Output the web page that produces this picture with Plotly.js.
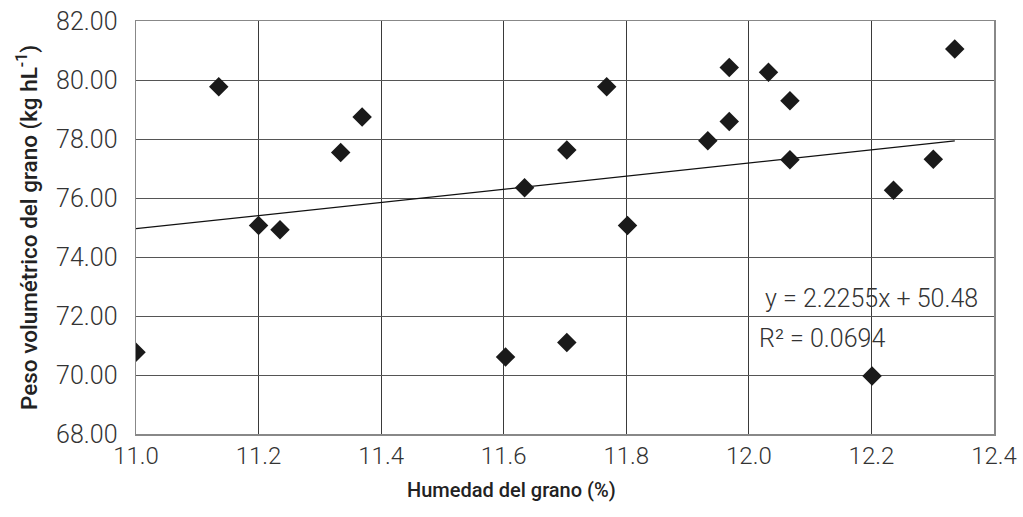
<!DOCTYPE html>
<html>
<head>
<meta charset="utf-8">
<script src="https://cdn.plot.ly/plotly-3.0.1.min.js"></script>
<style>html,body{margin:0;padding:0;background:#fff;}#chart{width:1023px;height:517px;}</style>
</head>
<body>
<div id="chart"></div>
<script>
// Humedad del grano (%)
const humedad = [11.0, 11.135, 11.2, 11.235, 11.334, 11.369, 11.603, 11.634, 11.703, 11.703,
                 11.768, 11.802, 11.933, 11.968, 11.968, 12.032, 12.067, 12.067, 12.201, 12.236, 12.301, 12.336];
// Peso volumétrico del grano (kg hL-1)
const peso = [70.77, 79.77, 75.07, 74.92, 77.54, 78.75, 70.61, 76.35, 77.63, 71.10,
              79.77, 75.07, 77.94, 80.42, 78.59, 80.26, 79.30, 77.30, 69.97, 76.26, 77.31, 81.05];
// Trend line (as stated in the chart)
const slope = 2.2255;
const intercept = 50.48;
const eqText = "y = 2.2255x + 50.48";
const r2Text = "R² = 0.0694";
const xTitle = "Humedad del grano (%)";
const yTitle = "Peso volumétrico del grano (kg hL<sup>-1</sup>)";
const xTicks = [11.0, 11.2, 11.4, 11.6, 11.8, 12.0, 12.2, 12.4];
const yTicks = [68, 70, 72, 74, 76, 78, 80, 82];

const xMin = Math.min(...humedad), xMax = Math.max(...humedad);
const trendX = [xMin, xMax];
const trendY = trendX.map(x => slope * x + intercept);

const traces = [
  {x: trendX, y: trendY, mode: 'lines', type: 'scatter',
   line: {color: '#111', width: 1.2}, hoverinfo: 'skip', showlegend: false},
  {x: humedad, y: peso, mode: 'markers', type: 'scatter',
   marker: {symbol: 'diamond', size: 15, color: '#1a1a1a'}, showlegend: false}
];

const tickFont = {family: 'Roboto', size: 25, color: '#333', weight: 300};
const xTickFont = {family: 'Roboto', size: 24, color: '#333', weight: 300};
const annFont = {family: 'Roboto', size: 25, color: '#333', weight: 300};
const layout = {
  width: 1023, height: 517,
  margin: {l: 136, r: 29, t: 21, b: 83},
  paper_bgcolor: '#fff', plot_bgcolor: '#fff',
  xaxis: {
    range: [11.0, 12.4], tickvals: xTicks, ticktext: xTicks.map(v => v.toFixed(1)),
    showgrid: true, gridcolor: '#3a3a3a', gridwidth: 1,
    showline: true, linecolor: '#888', linewidth: 1.5, mirror: true,
    zeroline: false, ticks: '', tickfont: xTickFont, ticklabelstandoff: 0
  },
  yaxis: {
    range: [68, 82], tickvals: yTicks, ticktext: yTicks.map(v => v.toFixed(2)),
    showgrid: true, gridcolor: '#555', gridwidth: 1,
    showline: true, linecolor: '#888', linewidth: 1.5, mirror: true,
    zeroline: false, ticks: '', tickfont: tickFont, ticklabelstandoff: 12,
    title: {text: yTitle, font: {family: 'Roboto', size: 22.5, color: '#222', weight: 500}, standoff: 12}
  },
  annotations: [
    {xref: 'paper', yref: 'paper', x: (511.5-136)/858, y: -(490-434)/413, xanchor: 'center', yanchor: 'middle',
     text: xTitle, showarrow: false, font: {family: 'Roboto', size: 20, color: '#222', weight: 500}},
    {xref: 'paper', yref: 'paper', x: (763-136)/858, y: (434-298)/413, xanchor: 'left', yanchor: 'middle',
     text: eqText, showarrow: false, font: annFont},
    {xref: 'paper', yref: 'paper', x: (757-136)/858, y: (434-338)/413, xanchor: 'left', yanchor: 'middle',
     text: r2Text, showarrow: false, font: annFont}
  ]
};

Plotly.newPlot('chart', traces, layout, {displayModeBar: false, staticPlot: true});
</script>
</body>
</html>
